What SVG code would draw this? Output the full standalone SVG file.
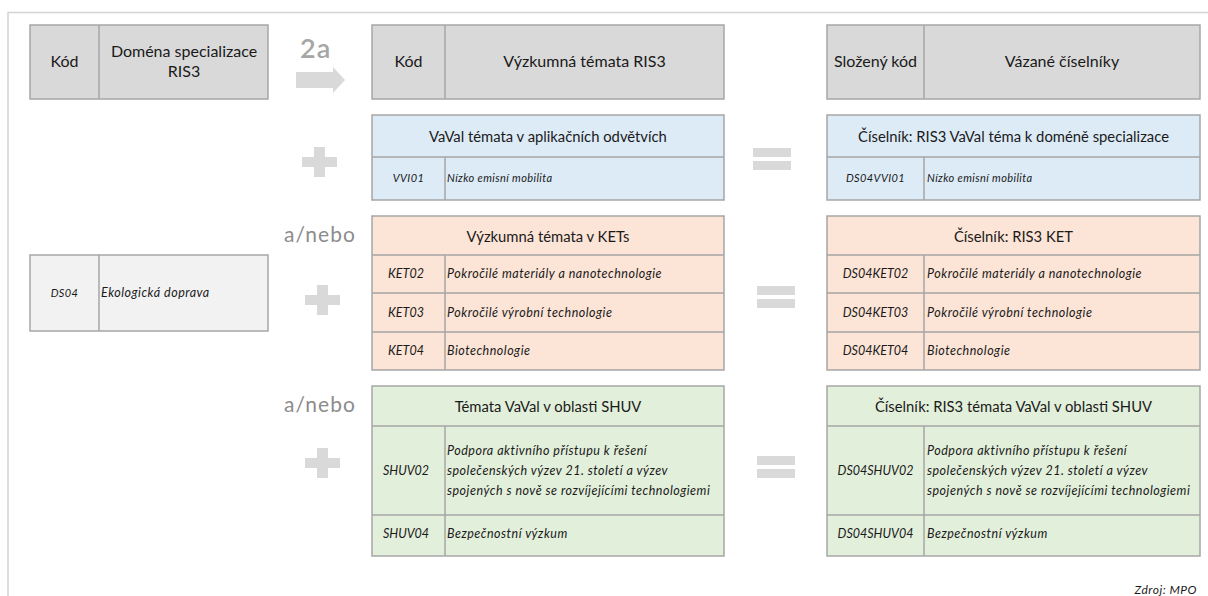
<svg xmlns="http://www.w3.org/2000/svg" width="1208" height="596" viewBox="0 0 1208 596">
<style>
.frame{stroke:#d4d4d4;stroke-width:1.5;fill:none}
.cell{stroke:#a6a6a6;stroke-width:1.5}
.hdr{fill:#d9d9d9}
.blue{fill:#ddebf7}
.peach{fill:#fce4d6}
.green{fill:#e2efda}
.light{fill:#f2f2f2}
.div{stroke:#a6a6a6;stroke-width:1.5}
.t{font-family:Lato,"Open Sans",sans-serif;fill:#1a1a1a}
.h{font-size:16px}
.ti{font-size:14.8px}
.it{font-size:12.5px;font-style:italic;letter-spacing:0.5px}
.cd{font-size:12.5px;font-style:italic;letter-spacing:0px}
.sm{font-size:11px;font-style:italic;letter-spacing:0.4px}
.sym{fill:#d9d9d9}
.op{font-family:Lato,"Open Sans",sans-serif;fill:#8c8c8c;font-size:21px;letter-spacing:1px}
</style>
<rect width="1208" height="596" fill="#ffffff"/>
<g id="frame">
<path class="frame" d="M8,596 V12.5 H1208"/>
</g>

<g id="hdr-left">
<rect class="cell hdr" x="30" y="25" width="238" height="74"/>
<line class="div" x1="99" y1="25" x2="99" y2="99"/>
<text class="t h" x="64.5" y="67" text-anchor="middle">Kód</text>
<text class="t h" x="184" y="57" text-anchor="middle">Doména specializace</text>
<text class="t h" x="184" y="77" text-anchor="middle">RIS3</text>
</g>

<g id="ds04">
<rect class="cell light" x="30" y="255" width="238" height="76"/>
<line class="div" x1="99" y1="255" x2="99" y2="331"/>
<text class="t sm" x="64.5" y="297" text-anchor="middle">DS04</text>
<text class="t it" x="101" y="297">Ekologická doprava</text>
</g>

<g id="step-2a">
<text x="300" y="58" font-family="Lato,'Open Sans',sans-serif" font-size="27" font-weight="600" letter-spacing="1" fill="#a6a6a6">2a</text>
<path class="sym" d="M296,72 H333 V67 L345,80 L333,93 V88 H296 Z"/>
</g>

<g id="hdr-mid">
<rect class="cell hdr" x="372" y="25" width="352" height="74"/>
<line class="div" x1="445" y1="25" x2="445" y2="99"/>
<text class="t h" x="408.5" y="67" text-anchor="middle">Kód</text>
<text class="t h" x="584.5" y="67" text-anchor="middle">Výzkumná témata RIS3</text>
</g>

<g id="hdr-right">
<rect class="cell hdr" x="827" y="25" width="373" height="74"/>
<line class="div" x1="924" y1="25" x2="924" y2="99"/>
<text class="t h" x="875.5" y="67" text-anchor="middle">Složený kód</text>
<text class="t h" x="1062" y="67" text-anchor="middle">Vázané číselníky</text>
</g>

<g id="vvi-mid">
<rect class="cell blue" x="372" y="115" width="352" height="85"/>
<line class="div" x1="372" y1="157" x2="724" y2="157"/>
<line class="div" x1="445" y1="157" x2="445" y2="200"/>
<text class="t ti" x="548" y="142" text-anchor="middle">VaVal témata v aplikačních odvětvích</text>
<text class="t sm" x="408.5" y="182" text-anchor="middle">VVI01</text>
<text class="t sm" x="447" y="182">Nízko emisní mobilita</text>
</g>

<g id="vvi-right">
<rect class="cell blue" x="827" y="115" width="373" height="85"/>
<line class="div" x1="827" y1="157" x2="1200" y2="157"/>
<line class="div" x1="924" y1="157" x2="924" y2="200"/>
<text class="t ti" x="1013.5" y="142" text-anchor="middle">Číselník: RIS3 VaVal téma k doméně specializace</text>
<text class="t sm" x="875.5" y="182" text-anchor="middle">DS04VVI01</text>
<text class="t sm" x="927" y="182">Nízko emisní mobilita</text>
</g>

<g id="ket-mid">
<rect class="cell peach" x="372" y="216" width="352" height="154"/>
<line class="div" x1="372" y1="255" x2="724" y2="255"/>
<line class="div" x1="372" y1="293" x2="724" y2="293"/>
<line class="div" x1="372" y1="332" x2="724" y2="332"/>
<line class="div" x1="445" y1="255" x2="445" y2="370"/>
<text class="t ti" x="548" y="242" text-anchor="middle">Výzkumná témata v KETs</text>
<text class="t cd" x="406" y="278" text-anchor="middle">KET02</text>
<text class="t it" x="447" y="278">Pokročilé materiály a nanotechnologie</text>
<text class="t cd" x="406" y="317" text-anchor="middle">KET03</text>
<text class="t it" x="447" y="317">Pokročilé výrobní technologie</text>
<text class="t cd" x="406" y="355" text-anchor="middle">KET04</text>
<text class="t it" x="447" y="355">Biotechnologie</text>
</g>

<g id="ket-right">
<rect class="cell peach" x="827" y="216" width="373" height="154"/>
<line class="div" x1="827" y1="255" x2="1200" y2="255"/>
<line class="div" x1="827" y1="293" x2="1200" y2="293"/>
<line class="div" x1="827" y1="332" x2="1200" y2="332"/>
<line class="div" x1="924" y1="255" x2="924" y2="370"/>
<text class="t ti" x="1013.5" y="242" text-anchor="middle">Číselník: RIS3 KET</text>
<text class="t cd" x="875.5" y="278" text-anchor="middle">DS04KET02</text>
<text class="t it" x="927" y="278">Pokročilé materiály a nanotechnologie</text>
<text class="t cd" x="875.5" y="317" text-anchor="middle">DS04KET03</text>
<text class="t it" x="927" y="317">Pokročilé výrobní technologie</text>
<text class="t cd" x="875.5" y="355" text-anchor="middle">DS04KET04</text>
<text class="t it" x="927" y="355">Biotechnologie</text>
</g>

<g id="shuv-mid">
<rect class="cell green" x="372" y="386" width="352" height="170"/>
<line class="div" x1="372" y1="426" x2="724" y2="426"/>
<line class="div" x1="372" y1="515" x2="724" y2="515"/>
<line class="div" x1="445" y1="426" x2="445" y2="556"/>
<text class="t ti" x="548" y="412" text-anchor="middle">Témata VaVal v oblasti SHUV</text>
<text class="t cd" x="406" y="475" text-anchor="middle">SHUV02</text>
<text class="t it" x="447" y="455">Podpora aktivního přístupu k řešení</text>
<text class="t it" x="447" y="475">společenských výzev 21. století a výzev</text>
<text class="t it" x="447" y="495">spojených s nově se rozvíjejícími technologiemi</text>
<text class="t cd" x="406" y="538" text-anchor="middle">SHUV04</text>
<text class="t it" x="447" y="538">Bezpečnostní výzkum</text>
</g>

<g id="shuv-right">
<rect class="cell green" x="827" y="386" width="373" height="170"/>
<line class="div" x1="827" y1="426" x2="1200" y2="426"/>
<line class="div" x1="827" y1="515" x2="1200" y2="515"/>
<line class="div" x1="924" y1="426" x2="924" y2="556"/>
<text class="t ti" x="1013.5" y="412" text-anchor="middle">Číselník: RIS3 témata VaVal v oblasti SHUV</text>
<text class="t cd" x="875.5" y="475" text-anchor="middle">DS04SHUV02</text>
<text class="t it" x="927" y="455">Podpora aktivního přístupu k řešení</text>
<text class="t it" x="927" y="475">společenských výzev 21. století a výzev</text>
<text class="t it" x="927" y="495">spojených s nově se rozvíjejícími technologiemi</text>
<text class="t cd" x="875.5" y="538" text-anchor="middle">DS04SHUV04</text>
<text class="t it" x="927" y="538">Bezpečnostní výzkum</text>
</g>

<g id="operators">
<path class="sym" d="M302,157 H314 V147 H325 V157 H337 V167 H325 V177 H314 V167 H302 Z"/>
<rect class="sym" x="753" y="148" width="38" height="9"/>
<rect class="sym" x="753" y="161" width="38" height="9"/>
<text class="op" x="284" y="242">a/nebo</text>
<path class="sym" d="M305,295 H317 V285 H328 V295 H340 V305 H328 V315 H317 V305 H305 Z"/>
<rect class="sym" x="757" y="286" width="38" height="9"/>
<rect class="sym" x="757" y="299" width="38" height="9"/>
<text class="op" x="284" y="412">a/nebo</text>
<path class="sym" d="M305,458 H317 V448 H328 V458 H340 V468 H328 V478 H317 V468 H305 Z"/>
<rect class="sym" x="757" y="456" width="38" height="9"/>
<rect class="sym" x="757" y="469" width="38" height="9"/>
</g>

<text class="t" x="1197" y="594" font-size="12" font-style="italic" letter-spacing="0.5" text-anchor="end">Zdroj: MPO</text>
</svg>
